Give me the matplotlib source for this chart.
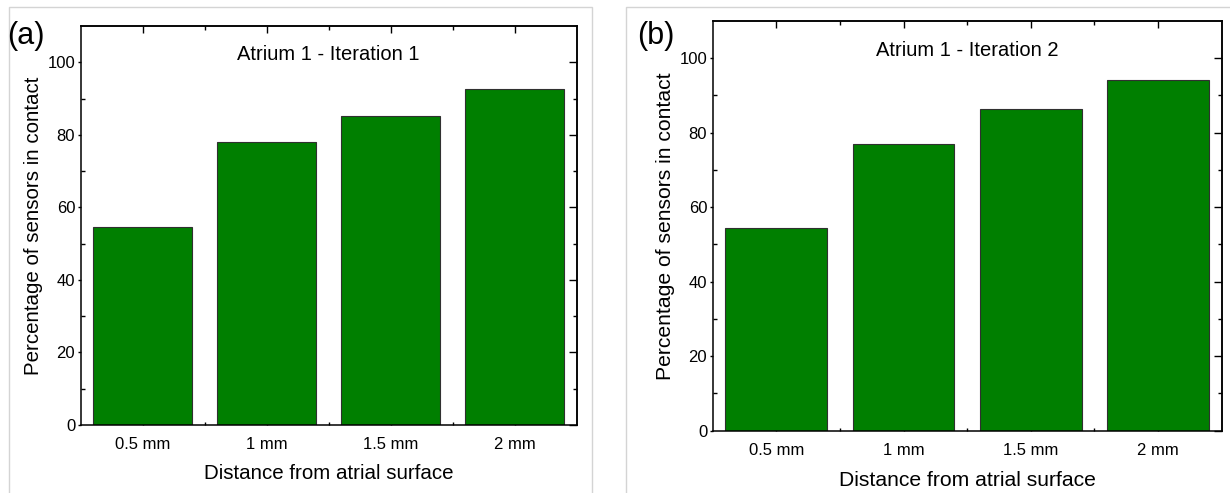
import matplotlib.pyplot as plt
from matplotlib.patches import Rectangle
from matplotlib.ticker import FixedLocator, NullFormatter

plt.rcParams.update({
    "font.family": ["Liberation Sans", "DejaVu Sans"],
    "font.size": 12,
    "axes.linewidth": 1.1,
})

distances = ["0.5 mm", "1 mm", "1.5 mm", "2 mm"]
iter1_pct = [54.5, 78.0, 85.3, 92.5]
iter2_pct = [54.5, 77.1, 86.5, 94.2]
titles = ["Atrium 1 - Iteration 1", "Atrium 1 - Iteration 2"]
panel_tags = ["(a)", "(b)"]

BAR_GREEN = "#007f00"
W, H = 1230, 493


def style_axes(ax):
    x = list(range(len(distances)))
    minors_x = [i + 0.5 for i in x[:-1]]
    ax.set_xlim(-0.5, len(distances) - 0.5)
    ax.set_ylim(0, 110)
    ax.set_xticks(x)
    ax.set_xticklabels(distances)
    ax.xaxis.set_minor_locator(FixedLocator(minors_x))
    ax.set_yticks([0, 20, 40, 60, 80, 100])
    ax.yaxis.set_minor_locator(FixedLocator([10, 30, 50, 70, 90]))

    ax.tick_params(axis="x", which="major", direction="in", length=5, width=1, labelsize=12, pad=8.5)
    ax.tick_params(axis="x", which="minor", direction="in", length=2.5, width=1)
    ax.tick_params(axis="y", which="major", direction="out", length=2.5, width=1, labelsize=12, pad=1.5)
    ax.tick_params(axis="y", which="minor", direction="in", length=3, width=1)

    top = ax.secondary_xaxis("top")
    top.set_xticks(x)
    top.xaxis.set_minor_locator(FixedLocator(minors_x))
    top.xaxis.set_major_formatter(NullFormatter())
    top.tick_params(which="major", direction="in", length=5, width=1)
    top.tick_params(which="minor", direction="in", length=3, width=1)

    right = ax.secondary_yaxis("right")
    right.set_yticks([0, 20, 40, 60, 80, 100])
    right.yaxis.set_minor_locator(FixedLocator([10, 30, 50, 70, 90]))
    right.yaxis.set_major_formatter(NullFormatter())
    right.tick_params(which="major", direction="in", length=5.5, width=1)
    right.tick_params(which="minor", direction="in", length=3, width=1)


fig = plt.figure(figsize=(W / 100, H / 100), dpi=100)

# light grey frames round each panel (they were two separate images)
fig.add_artist(Rectangle((9.3 / W, -0.02), (592.3 - 9.3) / W, (H - 7.3) / H + 0.02,
                         transform=fig.transFigure, fill=False, edgecolor="#d4d4d4", lw=1))
fig.add_artist(Rectangle((625.7 / W, -0.02), 0.5, (H - 6.7) / H + 0.02,
                         transform=fig.transFigure, fill=False, edgecolor="#d4d4d4", lw=1))

boxes = [
    (80.7, 576.7, 26, 425),
    (712.7, 1221.7, 21, 430.7),
]
tag_pos = [(26, 36), (656, 36)]
xlabel_pad = [8.5, 10]
label_size = [14.8, 15.2]

for i, values in enumerate([iter1_pct, iter2_pct]):
    x0, x1, y0, y1 = boxes[i]
    ax = fig.add_axes([x0 / W, (H - y1) / H, (x1 - x0) / W, (y1 - y0) / H])
    ax.bar(range(len(distances)), values, width=0.8, color=BAR_GREEN,
           edgecolor="#303030", linewidth=0.8, zorder=2)
    style_axes(ax)
    ax.text(0.5, 0.928, titles[i], transform=ax.transAxes, ha="center", va="center", fontsize=14.5)
    ax.set_xlabel("Distance from atrial surface", fontsize=label_size[i], labelpad=xlabel_pad[i])
    ax.set_ylabel("Percentage of sensors in contact", fontsize=label_size[i], labelpad=3)
    tx, ty = tag_pos[i]
    fig.text(tx / W, 1 - ty / H, panel_tags[i], ha="center", va="center", fontsize=22)

fig.savefig("out.png", dpi=100)
